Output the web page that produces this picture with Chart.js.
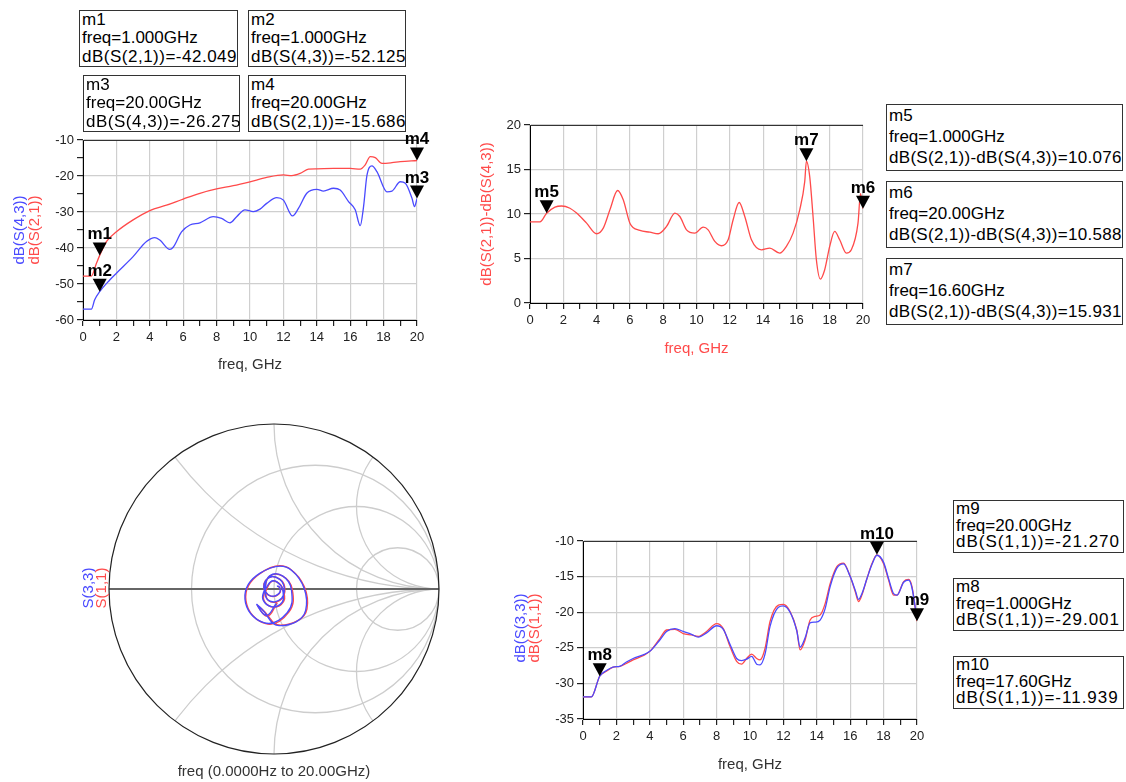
<!DOCTYPE html>
<html><head><meta charset="utf-8">
<script src="https://cdn.jsdelivr.net/npm/chart.js@4/dist/chart.umd.min.js"></script>
<style>
html,body{margin:0;padding:0;background:#fff;}
body{width:1126px;height:782px;position:relative;overflow:hidden;font-family:"Liberation Sans",Arial,sans-serif;}
canvas{position:absolute;}
.mbox{position:absolute;border:1px solid #333;box-sizing:border-box;font-size:17px;padding:0 0 0 2px;color:#000;white-space:nowrap;background:#fff;}
.vt{position:absolute;transform:translate(-50%,-50%) rotate(-90deg);font-size:15px;white-space:nowrap;line-height:15px;}
</style></head><body>
<canvas id="c1" width="440" height="260" style="left:0;top:120px"></canvas>
<canvas id="c2" width="420" height="260" style="left:460px;top:105px"></canvas>
<canvas id="c4" width="370" height="372" style="left:90px;top:410px"></canvas>
<canvas id="c3" width="440" height="262" style="left:500px;top:520px"></canvas>
<div class="vt" style="left:18px;top:230px;color:#4a4aff">dB(S(4,3))</div>
<div class="vt" style="left:33px;top:230px;color:#ff4a4a">dB(S(2,1))</div>
<div class="vt" style="left:519px;top:628px;color:#4a4aff">dB(S(3,3))</div>
<div class="vt" style="left:533px;top:628px;color:#ff4a4a">dB(S(1,1))</div>
<div class="vt" style="left:87px;top:588px;color:#4a4aff">S(3,3)</div>
<div class="vt" style="left:100px;top:588px;color:#ff4a4a">S(1,1)</div>
<script>
// ---------- data ----------
const xTickLabels = [0,2,4,6,8,10,12,14,16,18,20];
const yTicksTop = [-60,-50,-40,-30,-20,-10];
const yTicksDiff = [0,5,10,15,20];
const yTicksRefl = [-35,-30,-25,-20,-15,-10];

const s21Freq = [0,0.5,0.8,1,1.4,2,3,4,5,6,7,8,9,10,11,12,12.5,13,13.5,14,15,16,16.6,16.9,17.2,17.5,17.9,18.5,19,20];
const s21dB   = [-47.8,-47.8,-44.3,-42.05,-38.2,-35.5,-32.2,-29.6,-28.1,-26.4,-24.8,-23.6,-22.7,-21.6,-20.4,-19.7,-19.9,-19.3,-18.1,-18.0,-17.9,-17.9,-18.1,-16.9,-14.6,-14.9,-16.5,-16.3,-16.0,-15.69];

const s43Freq = [0,0.5,0.7,1,1.6,2,3,3.8,4.3,4.6,5.2,5.4,5.9,6.4,7,7.8,8.3,8.8,9.2,9.7,10.2,10.6,11,11.6,12,12.55,12.9,13.4,14,14.4,15,15.4,15.9,16.3,16.6,16.8,17,17.3,17.6,18.2,18.5,19,19.3,19.7,19.85,20];
const s43dB   = [-57,-57,-54.4,-52.13,-48.9,-47,-42.4,-38.2,-37.1,-37.8,-40.4,-39.8,-35.5,-33.6,-33.0,-31.3,-31.8,-33.0,-31.3,-29.4,-29.9,-29.2,-27.6,-26.0,-26.7,-31.1,-29.0,-24.8,-23.7,-24.2,-23.4,-23.9,-27.1,-29.4,-33.8,-28.5,-19.9,-17.2,-18.8,-24.4,-24.2,-21.6,-22.0,-26.2,-28.5,-26.28];

const diffFreq = [0,0.6,1,1.5,1.9,2.4,2.8,3.4,4,4.4,4.8,5.26,5.6,6,6.6,7.2,7.7,8.2,8.7,9,9.4,9.9,10.4,10.7,11.1,11.5,11.9,12.2,12.56,12.9,13.3,13.9,14.4,15,15.4,15.8,16.2,16.5,16.6,16.8,17,17.2,17.44,17.7,18,18.3,18.6,19,19.3,19.7,19.85,20];
const diffdB   = [9.12,9.12,10.08,10.77,10.9,10.65,10.1,8.97,7.78,8.41,10.47,12.64,11.6,8.97,8.15,7.96,7.78,8.6,10.1,9.72,8.22,7.85,8.52,8.22,6.92,6.43,7.1,9.35,11.29,9.72,7.1,5.98,6.17,5.6,6.36,7.85,10.47,13.64,15.93,14.2,9.72,4.86,2.69,3.74,6.36,8.04,7.1,5.6,5.98,8.97,12.3,10.59];

const reflFreq = [0,0.5,1,1.4,1.8,2.2,2.6,3,3.6,4,4.6,5,5.5,6,6.5,6.9,7.4,8,8.4,8.8,9.2,9.5,9.8,10.1,10.4,10.6,10.9,11.2,11.7,12,12.4,12.8,13,13.3,13.6,13.9,14.2,14.5,14.8,15.2,15.6,16,16.3,16.5,16.7,17,17.3,17.6,18,18.3,18.6,18.8,19.2,19.5,19.7,20];
const s11dB = [-31.9,-31.9,-29.0,-28.3,-27.7,-27.6,-27.2,-26.7,-26.1,-25.5,-23.7,-22.5,-22.4,-23.0,-23.2,-23.4,-22.7,-21.6,-22.3,-24.8,-26.9,-27.3,-26.5,-25.9,-26.5,-26.7,-25.1,-21.3,-19.0,-18.9,-19.9,-22.5,-25.3,-23.9,-21.1,-20.6,-20.4,-18.8,-16.0,-13.6,-13.1,-15.0,-17.1,-18.5,-17.6,-15.3,-13.2,-11.94,-13.2,-15.5,-17.6,-17.6,-15.7,-15.4,-16.4,-21.27];
const s33dB = [-31.9,-31.9,-29.0,-28.2,-27.7,-27.6,-27.0,-26.5,-26.0,-25.5,-23.9,-22.7,-22.3,-22.7,-23.1,-23.5,-22.9,-21.9,-22.4,-24.5,-26.5,-26.8,-26.6,-26.2,-27.3,-27.4,-25.9,-22.0,-19.3,-19.1,-20.0,-22.6,-24.9,-23.6,-21.5,-21.4,-21.1,-19.5,-16.4,-13.8,-13.2,-15.0,-16.9,-18.2,-17.4,-15.3,-13.3,-12.0,-13.0,-15.3,-17.4,-17.6,-15.8,-15.5,-16.6,-21.0];

// Smith chart traces (reflection coefficient, real / imaginary), 0..20 GHz
const smithFreq = [0,0.5,1,1.5,2,2.5,3,3.5,4,4.5,5,5.5,6,6.5,7,7.5,8,8.5,9,9.5,10,10.5,11,11.5,12,12.5,13,13.5,14,14.5,15,15.5,16,16.5,17,17.5,18,18.5,19,19.5,20];
const s11Re = [0.020,0.022,0.032,0.040,0.036,0.022,0.002,-0.024,-0.045,-0.062,-0.052,-0.012,0.034,0.060,0.066,0.052,0.012,-0.034,-0.050,-0.040,-0.010,0.040,0.060,0.058,0.000,-0.060,-0.055,-0.030,0.050,0.110,0.090,-0.050,-0.170,-0.090,0.100,0.200,0.040,-0.070,-0.100,-0.040,0.020];
const s11Im = [0.015,0.016,0.012,-0.004,-0.022,-0.036,-0.045,-0.042,-0.026,0.008,0.050,0.075,0.060,0.030,-0.014,-0.055,-0.080,-0.070,-0.026,0.010,0.048,0.026,-0.020,-0.076,-0.110,-0.072,-0.010,0.075,0.080,0.000,-0.140,-0.210,-0.070,0.090,0.120,-0.120,-0.220,-0.125,-0.100,-0.165,-0.085];
const s33Re = [0.018,0.020,0.030,0.038,0.035,0.021,0.000,-0.026,-0.047,-0.062,-0.050,-0.010,0.036,0.058,0.062,0.046,0.004,-0.040,-0.054,-0.042,-0.006,0.042,0.056,0.050,-0.010,-0.066,-0.057,-0.026,0.054,0.106,0.080,-0.062,-0.176,-0.084,0.106,0.192,0.030,-0.076,-0.104,-0.046,0.014];
const s33Im = [0.016,0.017,0.014,-0.002,-0.020,-0.034,-0.043,-0.040,-0.022,0.012,0.052,0.076,0.058,0.026,-0.018,-0.056,-0.078,-0.064,-0.020,0.016,0.050,0.020,-0.028,-0.080,-0.108,-0.066,-0.002,0.080,0.078,-0.006,-0.144,-0.204,-0.060,0.096,0.114,-0.130,-0.222,-0.120,-0.094,-0.160,-0.088];
const smithR = [1/3, 1, 3];
const smithX = [0.5, 1, 2];

// markers
const markersTop = [
  {name:'m1', freq:1.0,  value:-42.049, expr:'dB(S(2,1))'},
  {name:'m2', freq:1.0,  value:-52.125, expr:'dB(S(4,3))'},
  {name:'m3', freq:20.0, value:-26.275, expr:'dB(S(4,3))'},
  {name:'m4', freq:20.0, value:-15.686, expr:'dB(S(2,1))'}
];
const markersDiff = [
  {name:'m5', freq:1.0,  value:10.076, expr:'dB(S(2,1))-dB(S(4,3))'},
  {name:'m6', freq:20.0, value:10.588, expr:'dB(S(2,1))-dB(S(4,3))'},
  {name:'m7', freq:16.6, value:15.931, expr:'dB(S(2,1))-dB(S(4,3))'}
];
const markersRefl = [
  {name:'m9',  freq:20.0, value:-21.270, expr:'dB(S(1,1))'},
  {name:'m8',  freq:1.0,  value:-29.001, expr:'dB(S(1,1))'},
  {name:'m10', freq:17.6, value:-11.939, expr:'dB(S(1,1))'}
];

// ---------- presentation ----------
const RED = '#ff4a4a', BLUE = '#4a4aff';
Chart.defaults.font.family = '"Liberation Sans", Arial, sans-serif';
Chart.defaults.color = '#222';

const pts = (xs, ys) => xs.map((x, i) => ({x: x, y: ys[i]}));

const framePlugin = {
  id: 'frame',
  beforeDatasetsDraw(chart) {
    const {ctx, chartArea: a} = chart;
    ctx.save();
    ctx.strokeStyle = '#333'; ctx.lineWidth = 1;
    ctx.beginPath(); ctx.moveTo(a.left, a.top + 0.5); ctx.lineTo(a.right, a.top + 0.5); ctx.stroke();
    ctx.restore();
  }
};

const markerPlugin = {
  id: 'markers',
  afterDatasetsDraw(chart, args, opts) {
    const list = opts.list || [];
    const {ctx} = chart;
    const xs = chart.scales.x, ys = chart.scales.y;
    ctx.save();
    list.forEach(m => {
      const px = xs.getPixelForValue(m.freq), py = ys.getPixelForValue(m.value);
      ctx.fillStyle = '#000';
      ctx.beginPath();
      ctx.moveTo(px - 7, py - 13); ctx.lineTo(px + 7, py - 13); ctx.lineTo(px, py); ctx.closePath();
      ctx.fill();
      ctx.font = 'bold 17px "Liberation Sans", Arial, sans-serif';
      ctx.textAlign = 'center'; ctx.textBaseline = 'alphabetic';
      ctx.fillText(m.name, px, py - 16);
    });
    ctx.restore();
  }
};

function cartesian(id, datasets, c) {
  return new Chart(document.getElementById(id), {
    type: 'line',
    data: {datasets: datasets},
    options: {
      responsive: false, animation: false, events: [],
      layout: {padding: c.pad},
      plugins: {legend: {display: false}, tooltip: {enabled: false}, markers: {list: c.markers}},
      elements: {point: {radius: 0}, line: {borderWidth: 1.3, cubicInterpolationMode: 'monotone'}},
      scales: {
        x: {
          type: 'linear', min: 0, max: 20,
          afterFit: s => { s.height = c.xH; },
          ticks: {stepSize: 1, autoSkip: false, maxRotation: 0, padding: 4, font: {size: 13},
                  callback: v => xTickLabels.includes(v) ? String(v) : ''},
          grid: {color: g => (g.tick && xTickLabels.includes(g.tick.value)) ? '#cfcfcf' : 'rgba(0,0,0,0)',
                 tickColor: '#222', tickLength: 6, lineWidth: 1.2},
          border: {color: '#000', width: 1},
          title: {display: true, text: 'freq, GHz', color: c.xTitleColor, font: {size: 15}, padding: {top: 0, bottom: c.xTitlePb}}
        },
        y: {
          min: c.yMin, max: c.yMax,
          afterFit: s => { s.width = c.yW; },
          ticks: {stepSize: c.yStep, autoSkip: false, padding: 3, font: {size: 13},
                  callback: v => c.yLabels.includes(v) ? String(v) : ''},
          grid: {color: g => (g.tick && c.yLabels.includes(g.tick.value)) ? '#cfcfcf' : 'rgba(0,0,0,0)',
                 tickColor: '#222', tickLength: 6, lineWidth: 1.2},
          border: {color: '#000', width: 1},
          title: c.yTitle ? {display: true, text: c.yTitle, color: RED, font: {size: 15}, padding: {top: c.yTitlePt, bottom: 0}} : {display: false}
        }
      }
    },
    plugins: [framePlugin, markerPlugin]
  });
}

// chart 1: dB(S(4,3)) and dB(S(2,1))
cartesian('c1', [
  {data: pts(s43Freq, s43dB), borderColor: BLUE},
  {data: pts(s21Freq, s21dB), borderColor: RED}
], {pad: {left: 0, top: 20, right: 23, bottom: 0}, xH: 60, yW: 83, yMin: -60, yMax: -10, yStep: 5,
    yLabels: yTicksTop, xTitleColor: '#333', xTitlePb: 6, markers: markersTop});

// chart 2: difference
cartesian('c2', [
  {data: pts(diffFreq, diffdB), borderColor: RED}
], {pad: {left: 0, top: 20, right: 17, bottom: 0}, xH: 62, yW: 70, yMin: 0, yMax: 20, yStep: 5,
    yLabels: yTicksDiff, xTitleColor: RED, xTitlePb: 7, yTitle: 'dB(S(2,1))-dB(S(4,3))', yTitlePt: 18, markers: markersDiff});

// chart 3: dB(S(3,3)) and dB(S(1,1))
cartesian('c3', [
  {data: pts(reflFreq, s33dB), borderColor: BLUE},
  {data: pts(reflFreq, s11dB), borderColor: RED}
], {pad: {left: 0, top: 21, right: 23, bottom: 0}, xH: 63, yW: 83, yMin: -35, yMax: -10, yStep: 5,
    yLabels: yTicksRefl, xTitleColor: '#333', xTitlePb: 8, markers: markersRefl});

// chart 4: Smith chart
const smithGrid = {
  id: 'smithGrid',
  beforeDatasetsDraw(chart) {
    const {ctx} = chart;
    const xs = chart.scales.x, ys = chart.scales.y;
    const cx = xs.getPixelForValue(0), cy = ys.getPixelForValue(0);
    const R = xs.getPixelForValue(1) - cx;
    ctx.save();
    ctx.beginPath(); ctx.arc(cx, cy, R, 0, Math.PI * 2); ctx.clip();
    ctx.strokeStyle = '#cdcdcd'; ctx.lineWidth = 1.3;
    smithR.forEach(r => {
      ctx.beginPath(); ctx.arc(cx + R * r / (1 + r), cy, R / (1 + r), 0, Math.PI * 2); ctx.stroke();
    });
    smithX.forEach(x => {
      [1, -1].forEach(sg => {
        ctx.beginPath(); ctx.arc(cx + R, cy - sg * R / x, R / x, 0, Math.PI * 2); ctx.stroke();
      });
    });
    ctx.restore();
    ctx.save();
    ctx.strokeStyle = '#666'; ctx.lineWidth = 2;
    ctx.beginPath(); ctx.moveTo(cx - R, cy); ctx.lineTo(cx + R, cy); ctx.stroke();
    ctx.strokeStyle = '#222'; ctx.lineWidth = 1.2;
    ctx.beginPath(); ctx.arc(cx, cy, R, 0, Math.PI * 2); ctx.stroke();
    ctx.restore();
  }
};

new Chart(document.getElementById('c4'), {
  type: 'scatter',
  data: {datasets: [
    {data: pts(s33Re, s33Im), borderColor: BLUE, showLine: true, tension: 0.45, pointRadius: 0, borderWidth: 1.4},
    {data: pts(s11Re, s11Im), borderColor: RED, showLine: true, tension: 0.45, pointRadius: 0, borderWidth: 1.4}
  ]},
  options: {
    responsive: false, animation: false, events: [],
    layout: {padding: {left: 19, right: 21, top: 14, bottom: 0}},
    plugins: {legend: {display: false}, tooltip: {enabled: false},
      title: {display: true, position: 'bottom', text: 'freq (0.0000Hz to 20.00GHz)', color: '#333',
              font: {size: 15, weight: 'normal'}, padding: {top: 9, bottom: 1}}},
    scales: {
      x: {type: 'linear', min: -1, max: 1, display: false},
      y: {type: 'linear', min: -1, max: 1, display: false}
    }
  },
  plugins: [smithGrid]
});

// marker readout boxes
function fmtFreq(f) { return (f >= 10 ? f.toFixed(2) : f.toFixed(3)) + 'GHz'; }
function box(m, rect, lh, ls) {
  const d = document.createElement('div');
  d.className = 'mbox';
  d.style.left = rect[0] + 'px'; d.style.top = rect[1] + 'px';
  d.style.width = rect[2] + 'px'; d.style.height = rect[3] + 'px';
  d.style.lineHeight = lh + 'px';
  d.innerHTML = m.name + '<br>freq=' + fmtFreq(m.freq) + '<br><span style="letter-spacing:' + ls + 'px">' +
                m.expr + '=' + m.value.toFixed(3) + '</span>';
  document.body.appendChild(d);
}
box(markersTop[0], [79, 10, 159, 57], 18.3, 0.5);
box(markersTop[1], [248, 10, 158, 57], 18.3, 0.5);
box(markersTop[2], [83, 75, 157, 57], 18.3, 0.5);
box(markersTop[3], [248, 75, 158, 57], 18.3, 0.5);
box(markersDiff[0], [886, 104, 237, 67], 21, 0.3);
box(markersDiff[1], [886, 181, 237, 67], 21, 0.3);
box(markersDiff[2], [886, 258, 237, 67], 21, 0.3);
box(markersRefl[0], [953, 500, 171, 53], 16.5, 1.0);
box(markersRefl[1], [953, 578, 171, 53], 16.5, 1.0);
box(markersRefl[2], [953, 656, 171, 53], 16.5, 1.0);
</script>
</body></html>
